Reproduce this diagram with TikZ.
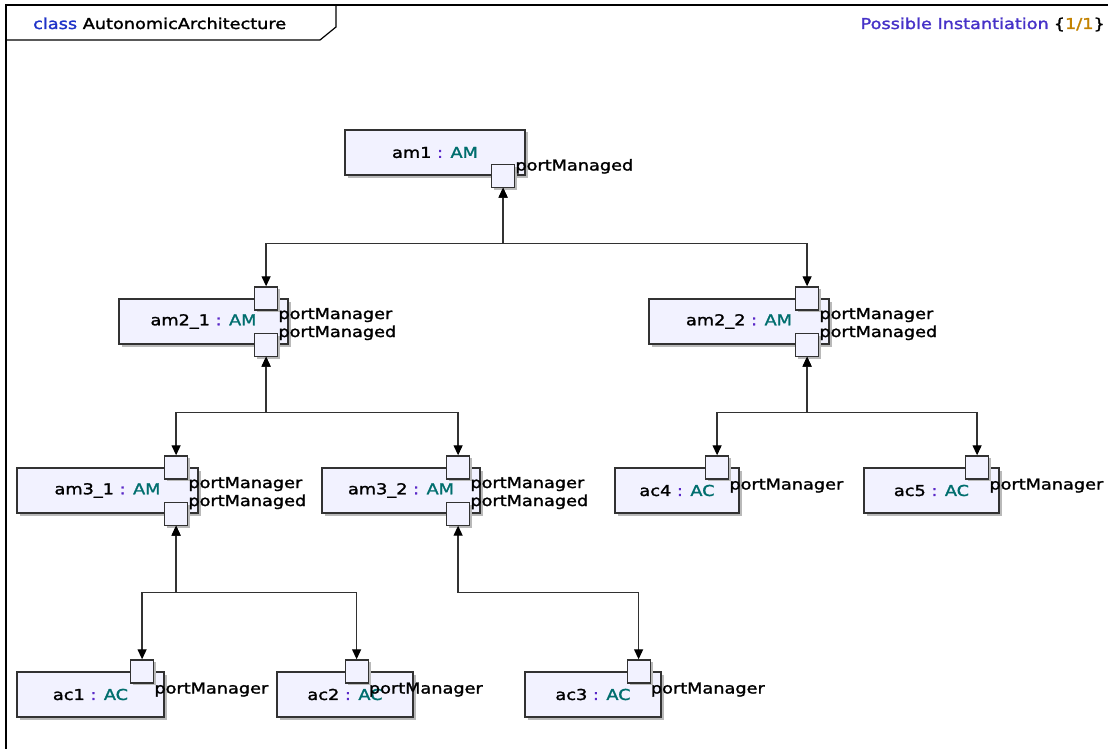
\documentclass[tikz,border=0pt]{standalone}
\usepackage{fontspec}
\newfontfamily\umlfont{DejaVu Sans}[FakeStretch=1.18,FakeBold=1.6]
\usetikzlibrary{arrows.meta,shadows}

\definecolor{boxfill}{RGB}{242,242,255}
\definecolor{boxline}{RGB}{50,50,50}
\definecolor{shadowgray}{RGB}{185,185,185}
\definecolor{kwblue}{RGB}{30,50,200}
\definecolor{instblue}{RGB}{70,50,200}
\definecolor{numorange}{RGB}{195,130,0}
\definecolor{typeteal}{RGB}{0,110,110}
\definecolor{colonpurple}{RGB}{90,40,200}

\newcommand{\inst}[2]{#1 \textcolor{colonpurple}{:} \textcolor{typeteal}{#2}}

\begin{document}
\begin{tikzpicture}[x=1pt,y=-1pt,
    font=\umlfont\fontsize{15pt}{18pt}\selectfont,
    part/.style={rectangle,draw=boxline,fill=boxfill,line width=1.2pt,minimum height=45pt,inner sep=0pt,
        drop shadow={shadow xshift=2.5pt,shadow yshift=-2.5pt,fill=shadowgray,opacity=1}},
    port/.style={part,minimum width=23pt,minimum height=23pt},
    plabel/.style={anchor=base west,inner sep=0pt},
    link/.style={draw=boxline,line width=1.3pt,
        {Triangle[length=10pt,width=9pt,black]}-{Triangle[length=10pt,width=9pt,black]}}]
    \useasboundingbox[fill=white] (0,0) rectangle (1108,749);

    % frame and tab
    \draw[line width=1.8pt] (6,760) -- (6,5) -- (1120,5);
    \draw[line width=1.2pt] (6,40) -- (320,40) -- (336,27) -- (336,5);
    \node[anchor=base west,inner sep=0pt] (title) at (33,29) {\textcolor{kwblue}{class} AutonomicArchitecture};
    \node[anchor=base east,inner sep=0pt] (instantiation) at (1105,29)
        {\textcolor{instblue}{Possible Instantiation}\hspace{5pt}\{\textcolor{numorange}{1/1}\}};

    % parts
    \node[part,minimum width=180pt] (am1) at (435,152.5) {\inst{am1}{AM}};
    \node[part,minimum width=169pt] (am21) at (203.5,321.5) {\inst{am2\_1}{AM}};
    \node[part,minimum width=180pt] (am22) at (739,321.5) {\inst{am2\_2}{AM}};
    \node[part,minimum width=181pt] (am31) at (107.5,490.5) {\inst{am3\_1}{AM}};
    \node[part,minimum width=158pt] (am32) at (401,490.5) {\inst{am3\_2}{AM}};
    \node[part,minimum width=124pt] (ac4) at (677,490.5) {\inst{ac4}{AC}};
    \node[part,minimum width=135pt] (ac5) at (931.5,490.5) {\inst{ac5}{AC}};
    \node[part,minimum width=147pt] (ac1) at (90.5,694.5) {\inst{ac1}{AC}};
    \node[part,minimum width=136pt] (ac2) at (345,694.5) {\inst{ac2}{AC}};
    \node[part,minimum width=136pt] (ac3) at (593,694.5) {\inst{ac3}{AC}};

    % ports: mr = portManager (top), md = portManaged (bottom)
    \node[port] (am1md) at ([xshift=-22.5pt]am1.south east) {};
    \foreach \p in {am21,am22,am31,am32} {
        \node[port] (\p mr) at ([xshift=-22.5pt]\p.north east) {};
        \node[port] (\p md) at ([xshift=-22.5pt]\p.south east) {};
        \node[plabel] (\p mrl) at ([yshift=-8.5pt]\p mr.south east) {portManager};
        \node[plabel] (\p mdl) at ([yshift=-4.5pt]\p md.north east) {portManaged};
    }
    \foreach \p/\dx in {ac1/-22.5,ac2/-57,ac3/-23,ac4/-22.5,ac5/-22.5} {
        \node[port] (\p mr) at ([xshift=\dx pt]\p.north east) {};
        \node[plabel] (\p mrl) at ([yshift=-10pt]\p mr.south east) {portManager};
    }
    \node[plabel] (am1mdl) at ([yshift=-7pt]am1md.north east) {portManaged};

    % connectors
    \foreach \u/\v/\d in {am1md/am21mr/56,am1md/am22mr/56,
                          am21md/am31mr/56,am21md/am32mr/56,
                          am22md/ac4mr/56,am22md/ac5mr/56,
                          am31md/ac1mr/67,am31md/ac2mr/67,
                          am32md/ac3mr/67}
        \draw[link] (\u.south) -- ++(0,\d) -| (\v.north);
\end{tikzpicture}
\end{document}
